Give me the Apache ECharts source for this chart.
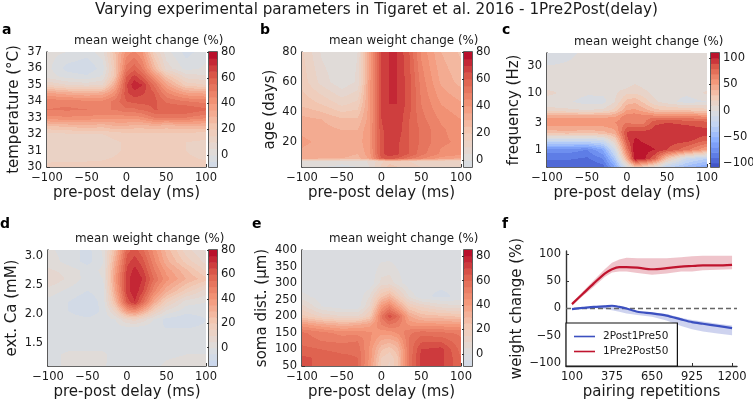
<!DOCTYPE html>
<html><head><meta charset="utf-8">
<style>html,body{margin:0;padding:0;background:#fff}#c{width:753px;height:402px}</style>
<script src="https://cdn.jsdelivr.net/npm/echarts@6/dist/echarts.min.js"></script>
</head><body><div id="c"></div>
<script>
// ---------- data ----------
const delays = [-100,-75,-50,-30,-15,0,10,20,35,50,75,100];
const delayTicks = [-100,-50,0,50,100];

const tempRows = [30,31,31.5,32,32.5,33,33.5,34,34.5,35,35.5,36,37];
const tempValues = [
 [16,17,17,17,17,17,17,17,17,17,17,17],
 [12,11,11,12,14,16,16,16,16,16,15,12],
 [12,11,11,12,14,16,16,16,16,16,15,14],
 [14,14,15,15,17,18,18,18,18,18,18,17],
 [24,27,28,27,30,30,28,28,30,28,30,30],
 [44,44,44,42,42,42,42,44,50,50,50,46],
 [50,51,50,50,50,54,54,56,60,60,60,56],
 [48,48,46,46,52,60,62,62,62,54,50,48],
 [36,32,30,32,42,64,68,66,60,46,36,34],
 [15,10,8,10,32,64,74,70,54,36,18,15],
 [3,-2,-4,1,22,60,67,60,42,24,8,6],
 [2,-7,-9,-3,20,52,58,50,28,8,-2,1],
 [2,0,-3,3,24,42,46,40,16,2,-7,-2]];

const ageRows = [3.3,7,9,12,20,28,35,45,60,80];
const ageValues = [
 [2,0,-1,0,5,16,22,20,16,15,12,12],
 [5,4,1,2,6,14,18,18,15,14,12,12],
 [32,30,30,28,36,60,62,60,52,46,38,34],
 [34,32,32,30,38,64,68,66,60,52,44,42],
 [36,34,34,32,40,64,67,66,60,54,46,44],
 [34,32,30,30,40,64,68,68,60,54,46,42],
 [32,30,26,26,38,65,69,69,60,52,44,40],
 [24,20,14,17,38,65,70,70,62,50,40,36],
 [18,8,1,6,38,65,70,70,62,48,34,28],
 [16,4,0,5,36,65,70,70,60,44,30,24]];

const freqRows = [0.5,0.7,1,1.5,2,3,3.8,5,7,10,12,25,50];
const freqValues = [
 [-100,-100,-100,-95,-60,-5,30,25,5,-25,-45,-60],
 [-88,-88,-92,-80,-35,45,108,105,80,30,-15,-30],
 [-75,-75,-80,-60,-10,72,108,105,100,90,72,50],
 [-15,-15,-15,-10,22,88,102,98,96,96,95,82],
 [34,36,34,36,46,92,95,95,96,96,96,95],
 [58,58,58,58,60,70,66,66,88,90,88,84],
 [48,48,48,48,50,68,68,66,66,66,65,60],
 [14,12,10,12,24,50,52,46,32,30,28,24],
 [3,2,-5,-4,10,34,38,28,12,5,-5,0],
 [14,6,2,2,8,18,18,14,6,3,3,12],
 [8,5,3,3,6,10,12,10,6,3,3,8],
 [3,3,3,3,3,3,3,3,3,3,3,3],
 [-8,-3,3,3,3,3,3,3,3,3,3,3]];

const caRows = [1.1,1.3,1.5,1.75,1.9,2.05,2.2,2.4,2.6,2.75,2.9,3.1];
const caValues = [
 [-2,1,2,1,-3,-4,-4,-4,-1,1,2,1],
 [-2,1,1,1,-2,-4,-4,-4,-2,-1,0,0],
 [-3,-3,-3,-3,-3,-3,-3,-3,-3,-3,-3,-3],
 [-3,-3,-3,-3,-3,-2,-2,-3,-4,-5,-5,-4],
 [-3,-3,-4,-3,0,10,12,8,-1,-7,-9,-5],
 [-3,-5,-8,-4,12,40,44,34,16,4,-3,-3],
 [-2,-5,-9,-3,26,62,70,56,32,16,2,0],
 [3,-1,-5,-2,34,68,74,66,46,32,18,8],
 [10,4,-2,0,38,68,74,70,54,42,30,22],
 [6,3,-2,1,36,66,72,66,50,38,26,14],
 [3,-2,-7,0,32,63,68,62,46,32,18,8],
 [1,-2,-7,1,26,58,62,56,42,28,12,4]];

const distRows = [50,75,100,125,150,175,200,230,260,300,400];
const distValues = [
 [66,64,62,60,42,18,14,24,56,72,72,60],
 [66,64,62,60,44,20,16,24,56,72,72,60],
 [62,60,58,58,44,26,22,28,56,70,72,58],
 [58,55,54,55,46,34,32,36,56,64,64,56],
 [56,52,48,48,46,42,42,46,54,58,56,54],
 [42,36,32,34,38,50,55,52,44,42,42,40],
 [22,14,10,10,20,55,68,60,36,28,26,24],
 [12,0,-3,-3,10,42,50,38,20,14,8,6],
 [2,-3,-4,-4,5,24,30,20,4,-4,-6,-4],
 [-4,-4,-4,-4,-4,7,8,3,-4,-4,-4,-4],
 [-4,-4,-4,-4,-4,-4,-4,-4,-4,-4,-4,-4]];

const reps = [100,175,250,325,375,425,475,550,650,750,850,925,1000,1100,1200];
const pre2post = [8,27,46,64,72,76,76,75,72,74,77,78,79,79,80];
const pre2postHi = [11,31,52,72,84,90,93,92,92,92,94,96,97,97,97];
const pre2postLo = [5,23,40,58,66,68,68,65,62,64,68,68,70,71,72];
const post1pre = [-1,1,3,4,5,3,0,-6,-9,-13,-20,-25,-28,-32,-36];
const post1preHi = [-1,2,4,6,6,4,0,-5,-7,-10,-17,-21,-24,-28,-31];
const post1preLo = [-1,0,1,-1,-3,-6,-9,-12,-15,-22,-32,-38,-42,-46,-49];
const repTicks = [100,375,650,925,1200];
const changeTicks = [-100,-50,0,50,100];

const titleText = 'Varying experimental parameters in Tigaret et al. 2016 - 1Pre2Post(delay)';
const cbarTitle = 'mean weight change (%)';
const xName = 'pre-post delay (ms)';

// ---------- layout ----------
const FONT = '"DejaVu Sans"', INK = '#1a1a1a', AXIS = '#333';
const panels = [
 {letter:'a',lx:2,ly:23,name:'temperature (°C)',rows:tempRows,vals:tempValues,g:[47,52,159,115],cb:[209,8],ymin:30,ymax:37,yt:[30,31,32,33,34,35,36,37],vmax:80,cmin:-9.3,cmax:80,ct:[0,20,40,60,80],step:5,ng:25},
 {letter:'b',lx:260,ly:23,name:'age (days)',rows:ageRows,vals:ageValues,g:[302,52,159,115],cb:[464,8],ymin:3.3,ymax:80,yt:[20,40,60,80],vmax:80,cmin:-5,cmax:80,ct:[0,20,40,60,80],step:5,ng:24},
 {letter:'c',lx:502,ly:23,name:'frequency (Hz)',rows:freqRows,vals:freqValues,g:[547,53,160,114],cb:[711,8],ymin:.5,ymax:50,yt:[1,3,10,30],log:true,vmax:110,cmin:-108,cmax:110,ct:[-100,-50,0,50,100],step:10,ng:25},
 {letter:'d',lx:0,ly:217,name:'ext. Ca (mM)',rows:caRows,vals:caValues,g:[48,250,158,116],cb:[209,8],ymin:1.1,ymax:3.1,yt:[1.5,2,2.5,3],fmt:1,vmax:80,cmin:-15,cmax:80,ct:[0,20,40,60,80],step:5,ng:28},
 {letter:'e',lx:252,ly:217,name:'soma dist. (µm)',rows:distRows,vals:distValues,g:[302,250,159,116],cb:[464,8],ymin:50,ymax:400,yt:[50,100,150,200,250,300,350,400],vmax:85,cmin:-10,cmax:85,ct:[0,20,40,60,80],step:5,ng:32}
];

// coolwarm colour map
const CM = [[59,76,192],[98,130,234],[141,176,254],[192,212,245],[221,221,221],[242,203,183],[244,152,122],[222,96,77],[180,4,38]];
function cmap(t){ t=Math.max(0,Math.min(1,t))*8; const i=Math.min(7,Math.floor(t)),f=t-i,a=CM[i],b=CM[i+1];
  return 'rgb('+[0,1,2].map(k=>Math.round(a[k]+(b[k]-a[k])*f)).join(',')+')'; }
function bandColor(v,p){ const lev=Math.floor(v/p.step)*p.step+p.step/2; return cmap((lev+p.vmax)/(2*p.vmax)); }

const grids=[],xAxes=[],yAxes=[],series=[],graphics=[];
const txt=(x,y,text,size,extra)=>graphics.push({type:'text',x,y,silent:true,style:Object.assign({text,fontFamily:FONT,fontSize:size,fill:INK,textAlign:'left',textVerticalAlign:'top'},extra||{})});
const minus=v=>String(v).replace('-','\u2212');

function contourItem(p){
  return function(params,api){
    const xa=api.value(0),xb=api.value(1),ya=api.value(2),yb=api.value(3);
    const v00=api.value(4),v10=api.value(5),v01=api.value(6),v11=api.value(7);
    const A=api.coord([xa,ya]),B=api.coord([xb,yb]);
    const X0=Math.round(A[0]),X1=Math.round(B[0]),Y0=Math.round(B[1]),Y1=Math.round(A[1]);
    const kids=[];
    for(let Y=Y0;Y<Y1;Y++){
      const fy=(A[1]-(Y+.5))/(A[1]-B[1]);
      let start=X0,cur=null;
      for(let X=X0;X<=X1;X++){
        let c=null;
        if(X<X1){const fx=(X+.5-A[0])/(B[0]-A[0]);
          const v=(v00*(1-fx)+v10*fx)*(1-fy)+(v01*(1-fx)+v11*fx)*fy;
          c=bandColor(v,p);}
        if(c!==cur){
          if(cur) kids.push({type:'rect',shape:{x:start,y:Y,width:X-start,height:1},style:{fill:cur}});
          cur=c;start=X;
        }
      }
    }
    return {type:'group',children:kids,silent:true};
  };
}

panels.forEach((p)=>{
  const gi=grids.length;
  grids.push({left:p.g[0],top:p.g[1],width:p.g[2],height:p.g[3],outerBoundsMode:'none'});
  xAxes.push({gridIndex:gi,type:'value',min:-100,max:100,splitLine:{show:false},
    axisLine:{onZero:false,lineStyle:{color:AXIS,width:1.6}},
    axisTick:{inside:true,length:3,customValues:delayTicks,lineStyle:{color:AXIS}},
    axisLabel:{customValues:delayTicks,formatter:minus,fontFamily:FONT,fontSize:11.5,color:INK,margin:5},
    name:xName,nameLocation:'middle',nameGap:19,nameTextStyle:{fontFamily:FONT,fontSize:15,color:INK}});
  yAxes.push({gridIndex:gi,type:p.log?'log':'value',logBase:10,min:p.ymin,max:p.ymax,splitLine:{show:false},
    axisLine:{onZero:false,lineStyle:{color:AXIS,width:1.6}},
    axisTick:{inside:true,length:3,customValues:p.yt,lineStyle:{color:AXIS}},
    axisLabel:{customValues:p.yt,fontFamily:FONT,fontSize:11.5,color:INK,margin:5,
      formatter:v=>p.fmt?Number(v).toFixed(1):String(v)},
    name:p.name,nameLocation:'middle',nameGap:p.ng,nameTextStyle:{fontFamily:FONT,fontSize:15,color:INK}});
  const data=[];
  for(let j=0;j<p.rows.length-1;j++)for(let i=0;i<delays.length-1;i++)
    data.push([delays[i],delays[i+1],p.rows[j],p.rows[j+1],p.vals[j][i],p.vals[j][i+1],p.vals[j+1][i],p.vals[j+1][i+1]]);
  series.push({type:'custom',xAxisIndex:gi,yAxisIndex:gi,coordinateSystem:'cartesian2d',silent:true,clip:true,z:1,
    encode:{x:[0,1],y:[2,3]},renderItem:contourItem(p),data});

  // colour bar
  const ci=grids.length;
  grids.push({left:p.cb[0],top:p.g[1],width:p.cb[1],height:p.g[3],outerBoundsMode:'none',show:true,borderColor:AXIS,borderWidth:1.6,backgroundColor:'transparent'});
  xAxes.push({gridIndex:ci,type:'value',min:0,max:1,show:false});
  yAxes.push({gridIndex:ci,type:'value',position:'right',min:p.cmin,max:p.cmax,splitLine:{show:false},
    axisLine:{show:false},
    axisTick:{show:true,inside:true,length:2,customValues:p.ct,lineStyle:{color:AXIS}},
    axisLabel:{customValues:p.ct,formatter:minus,fontFamily:FONT,fontSize:11.5,color:INK,margin:4}});
  const bands=[];
  for(let l=Math.floor(p.cmin/p.step)*p.step;l<p.cmax;l+=p.step) bands.push([0,1,Math.max(l,p.cmin),Math.min(l+p.step,p.cmax),l]);
  series.push({type:'custom',xAxisIndex:ci,yAxisIndex:ci,coordinateSystem:'cartesian2d',silent:true,clip:true,z:1,
    encode:{x:[0,1],y:[2,3]},
    renderItem:(pr,api)=>{const a=api.coord([api.value(0),api.value(2)]),b=api.coord([api.value(1),api.value(3)]);
      return {type:'rect',shape:{x:a[0],y:b[1],width:b[0]-a[0],height:a[1]-b[1]+.5},style:{fill:bandColor(api.value(4)+.01,p)}};},
    data:bands});

  txt(p.lx,p.ly,p.letter,14,{fontWeight:'bold',fill:'#000'});
  txt(p.g[0]+27,p.g[1]-17,cbarTitle,11.9);
});

// panel f
const fi=grids.length;
grids.push({left:566,top:251,width:171,height:115,outerBoundsMode:'none'});
xAxes.push({gridIndex:fi,type:'value',min:59,max:1234,splitLine:{show:false},
  axisLine:{onZero:false,lineStyle:{color:AXIS,width:1.4}},
  axisTick:{inside:true,length:3,customValues:repTicks,lineStyle:{color:AXIS}},
  axisLabel:{customValues:repTicks,formatter:v=>String(v),fontFamily:FONT,fontSize:11.5,color:INK,margin:5},
  name:'pairing repetitions',nameLocation:'middle',nameGap:19,nameTextStyle:{fontFamily:FONT,fontSize:15,color:INK}});
yAxes.push({gridIndex:fi,type:'value',min:-105.5,max:105.5,splitLine:{show:false},
  axisLine:{onZero:false,lineStyle:{color:AXIS,width:1.4}},
  axisTick:{inside:true,length:3,customValues:changeTicks,lineStyle:{color:AXIS}},
  axisLabel:{customValues:changeTicks,formatter:minus,fontFamily:FONT,fontSize:11.5,color:INK,margin:5},
  name:'weight change (%)',nameLocation:'middle',nameGap:41,nameTextStyle:{fontFamily:FONT,fontSize:15,color:INK}});
const bandSeries=(hi,lo,color)=>({type:'custom',xAxisIndex:fi,yAxisIndex:fi,coordinateSystem:'cartesian2d',silent:true,z:2,
  encode:{x:0,y:[1,2]},data:reps.map((r,i)=>[r,lo[i],hi[i]]),
  renderItem:(pr,api)=>{ if(pr.dataIndex!==0) return null;
    const pts=[]; reps.forEach((r,i)=>pts.push(api.coord([r,hi[i]])));
    for(let i=reps.length-1;i>=0;i--) pts.push(api.coord([reps[i],lo[i]]));
    return {type:'polygon',shape:{points:pts},style:{fill:color,opacity:.25}};}});
series.push(bandSeries(post1preHi,post1preLo,'#3c50c0'));
series.push(bandSeries(pre2postHi,pre2postLo,'#c0142e'));
series.push({type:'line',xAxisIndex:fi,yAxisIndex:fi,data:[[59,0],[1234,0]],showSymbol:false,silent:true,z:3,
  lineStyle:{color:'#666',width:1.3,type:[5,3]}});
const lineS=(name,vals,color)=>({type:'line',name,xAxisIndex:fi,yAxisIndex:fi,data:reps.map((r,i)=>[r,vals[i]]),smooth:.25,showSymbol:false,symbol:'none',z:4,
  lineStyle:{color,width:2.2},itemStyle:{color}});
series.push(lineS('2Post1Pre50',post1pre,'#3c50c0'));
series.push(lineS('1Pre2Post50',pre2post,'#c0142e'));
txt(502,217,'f',14,{fontWeight:'bold',fill:'#000'});

const chart=echarts.init(document.getElementById('c'),null,{width:753,height:402,renderer:'canvas'});
chart.setOption({animation:false,backgroundColor:'#fff',
  title:{text:titleText,left:'center',top:-2,textStyle:{fontFamily:FONT,fontSize:15.2,fontWeight:'normal',color:INK}},
  grid:grids,xAxis:xAxes,yAxis:yAxes,series,
  legend:{data:['2Post1Pre50','1Pre2Post50'],left:566,top:323,orient:'vertical',itemWidth:21,itemHeight:1.6,itemGap:2,padding:[7,9,8,8],
    backgroundColor:'#fff',borderColor:'#111',borderWidth:1.2,z:20,
    textStyle:{fontFamily:FONT,fontSize:10.5,color:INK,lineHeight:13,padding:[0,0,0,3]},icon:'rect'},
  graphic:graphics});
</script></body></html>
